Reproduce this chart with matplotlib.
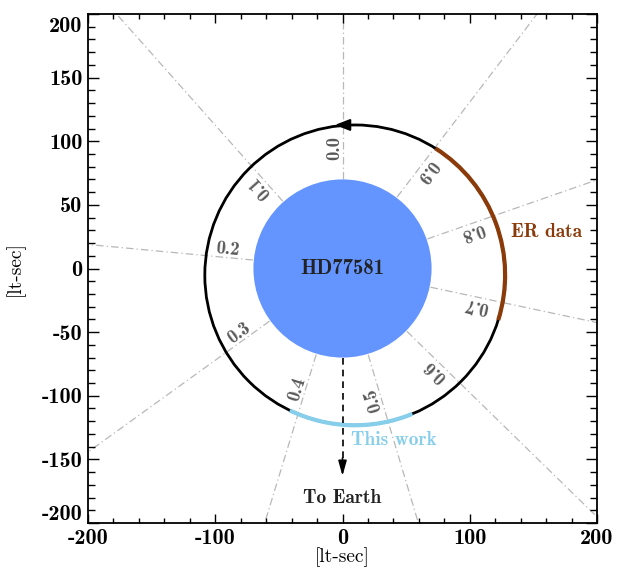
import numpy as np
import matplotlib
matplotlib.use('Agg')
from matplotlib import pyplot as plt
from matplotlib import transforms
from matplotlib.patches import Arc, Circle

plt.rcParams['axes.unicode_minus'] = False

# orbital phases and the direction (deg, from +x) of each phase line
phases = [0.0, 0.1, 0.2, 0.3, 0.4, 0.5, 0.6, 0.7, 0.8, 0.9]
phase_angles = [90.0, 131.6, 174.6, 215.8, 253.0, 286.6, 315.7, 348.0, 19.2, 52.6]

# star and orbit (lt-sec)
star_radius = 70
orbit_center = (9.8, -5.2)
orbit_radius = 118

# arcs on the orbit covered by data (deg, measured from orbit centre)
er_arc = (-17.4, 57.6)
this_work_arc = (244.3, 292.5)

er_color = '#8B3A0A'
tw_color = '#87CEEB'
star_color = '#6495FF'

fig = plt.figure(figsize=(6.18, 5.68), dpi=100)
ax = fig.add_axes([88 / 618, 45 / 568, 509 / 618, 509 / 568])

# linee di fase
cx, cy = orbit_center
for p, th in zip(phases, phase_angles):
    t = np.radians(th)
    ux, uy = np.cos(t), np.sin(t)
    ax.plot([0, 320 * ux], [0, 320 * uy], color='#b8b8b8', lw=0.9,
            ls=(0, (6, 2.5, 1, 2.5)), zorder=1)
    # distance from the star to the orbit along this line
    cu = cx * ux + cy * uy
    dist = cu + np.sqrt(cu ** 2 - (cx ** 2 + cy ** 2) + orbit_radius ** 2)
    rot = th if p < 0.15 else th - 180
    r = 0.845 * dist
    off = np.radians(rot + 90)
    ax.text(r * ux + 6.5 * np.cos(off), r * uy + 6.5 * np.sin(off), f'{p:.1f}',
            rotation=rot, rotation_mode='anchor', ha='center', va='center',
            color='#5a5a5a', fontsize=13.5, family='cmb10', zorder=5)

# orbita e stella
ax.add_patch(Circle(orbit_center, orbit_radius, fill=False, ec='black', lw=2.0, zorder=2))
ax.add_patch(Arc(orbit_center, 2 * orbit_radius, 2 * orbit_radius, theta1=er_arc[0],
                 theta2=er_arc[1], color=er_color, lw=3.0, zorder=3))
ax.add_patch(Arc(orbit_center, 2 * orbit_radius, 2 * orbit_radius, theta1=this_work_arc[0],
                 theta2=this_work_arc[1], color=tw_color, lw=3.0, zorder=3))
ax.add_patch(Circle((0, 0), star_radius, color=star_color, ec='none', zorder=4))

# freccia del verso orbitale
top_y = cy + orbit_radius
ax.annotate('', xy=(-6, top_y), xytext=(4, top_y),
            arrowprops=dict(arrowstyle='-|>,head_length=0.9,head_width=0.35',
                            color='black', lw=1.5, shrinkA=0, shrinkB=0), zorder=6)

# verso la Terra
ax.plot([0, 0], [-star_radius, -150], color='black', lw=1.2, ls=(0, (4, 3)), zorder=5)
ax.annotate('', xy=(0, -163), xytext=(0, -149),
            arrowprops=dict(arrowstyle='-|>,head_length=0.9,head_width=0.25',
                            color='black', lw=1.2, shrinkA=0, shrinkB=0), zorder=5)

ax.text(0, 0, 'HD77581', ha='center', va='center', fontsize=15, family='cmb10',
        color='#222222', zorder=6)
ax.text(160, 29, 'ER data', ha='center', va='center', fontsize=14, family='cmb10',
        color=er_color)
ax.text(40, -135, 'This work', ha='center', va='center', fontsize=14, family='cmb10',
        color=tw_color)
ax.text(0, -180, 'To Earth', ha='center', va='center', fontsize=14, family='cmb10',
        color='#222222')

ax.set_xlim(-200, 200)
ax.set_ylim(-200, 200)
ax.set_xticks([-200, -100, 0, 100, 200])
ax.set_xticks(np.arange(-200, 201, 20), minor=True)
ax.set_yticks(np.arange(-200, 201, 50))
ax.set_yticks(np.arange(-200, 201, 10), minor=True)
ax.tick_params(which='both', direction='in', top=True, right=True, width=1.0, colors='black')
ax.tick_params(axis='x', which='major', length=6.5, pad=4)
ax.tick_params(axis='x', which='minor', length=3.6)
ax.tick_params(axis='y', which='major', length=8, pad=4)
ax.tick_params(axis='y', which='minor', length=5)
for lab in ax.get_xticklabels() + ax.get_yticklabels():
    lab.set_family('cmb10')
    lab.set_fontsize(16)
for s in ax.spines.values():
    s.set_linewidth(1.3)

# sposto le etichette estreme dell'asse y verso l'interno
yt = ax.yaxis.get_major_ticks()
yt[0].label1.set_transform(yt[0].label1.get_transform() +
                           transforms.ScaledTranslation(0, 10 / 100, fig.dpi_scale_trans))
yt[-1].label1.set_transform(yt[-1].label1.get_transform() +
                            transforms.ScaledTranslation(0, -10 / 100, fig.dpi_scale_trans))

ax.set_xlabel('[lt-sec]', family='cmr10', fontsize=14, labelpad=0)
ax.set_ylabel('[lt-sec]', family='cmr10', fontsize=14, labelpad=12)

fig.savefig('out.png', dpi=100)
